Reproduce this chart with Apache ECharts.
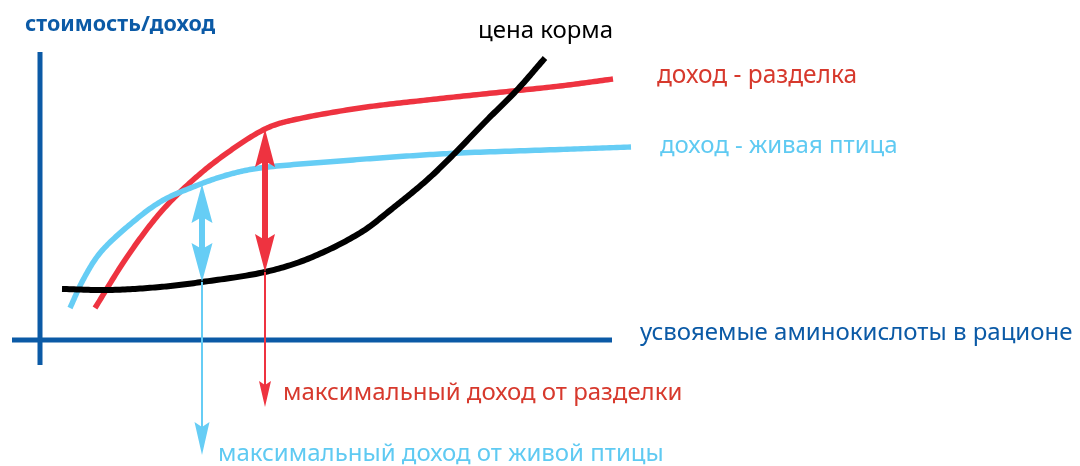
<!DOCTYPE html>
<html>
<head>
<meta charset="utf-8">
<script src="https://cdn.jsdelivr.net/npm/echarts@6/dist/echarts.min.js"></script>
<style>
html,body{margin:0;padding:0;background:#fff;}
#chart{width:1080px;height:466px;}
</style>
</head>
<body>
<div id="chart"></div>
<script>
// ---- data (abstract units: x = digestible amino acids, y = cost / income) ----
const feedCost = [[2.2,5.1],[7,5.0],[12,5.3],[16.2,5.8],[22.5,6.8],[27,8.2],[32,10.7],[35.3,13.2],[38.7,16.0],[41.3,18.5],[44.7,22],[47.7,25],[50.5,28.2]];
const incomeCut = [[5.5,3.2],[8.7,8.3],[12,12.7],[15.3,16],[18.7,18.7],[22.5,21.1],[25.3,22],[32,23.2],[38.7,24],[45.3,24.7],[52,25.4],[57.3,26.1]];
const incomeLive = [[3.0,3.2],[4.3,6.0],[6,8.7],[8.7,11.3],[12,13.8],[15.3,15.3],[18.7,16.5],[22,17.2],[28.7,17.8],[35.3,18.3],[42,18.7],[52,19.05],[59.1,19.3]];
// axes extents
const xAxisLine = [[-2.8,0],[57.2,0]];
const yAxisLine = [[0,28.8],[0,-2.5]];
// arrows: [x, yFrom, yTo]
const liveMarginArrow = [[16.2,15.6,5.8]];
const cutMarginArrow  = [[22.5,21.1,6.8]];
const liveOptArrow    = [[16.2,5.8,-11.5]];
const cutOptArrow     = [[22.5,6.8,-6.7]];
// labels
const labels = {
  yTitle: 'стоимость/доход',
  xTitle: 'усвояемые аминокислоты в рационе',
  feed: 'цена корма',
  cut: 'доход - разделка',
  live: 'доход - живая птица',
  cutMax: 'максимальный доход от разделки',
  liveMax: 'максимальный доход от живой птицы'
};

const BLUE_AXIS = '#0b5aa6';
const RED = '#ee3340';
const RED_TEXT = '#d7392d';
const LIGHT = '#66cdf5';
const LIGHT_TEXT = '#5fcaf2';
const FONT = '"Noto Sans", sans-serif';

// smooth curve drawn through the data points, positioned by the chart's own axes
function curveSeries(data, color, width, z){
  return {
    type: 'custom',
    data: data,
    z: z,
    renderItem: function(params, api){
      if (params.dataIndex !== 0) return null;
      const P = data.map(function(d){ return api.coord(d); });
      const n = P.length;
      function dist(a,b){ return Math.hypot(b[0]-a[0], b[1]-a[1]); }
      const m = P.map(function(p,i){
        if (i === 0) { const d = dist(P[0],P[1]); return [(P[1][0]-P[0][0])/d,(P[1][1]-P[0][1])/d]; }
        if (i === n-1) { const d = dist(P[n-2],P[n-1]); return [(P[n-1][0]-P[n-2][0])/d,(P[n-1][1]-P[n-2][1])/d]; }
        const s = dist(P[i-1],P[i]) + dist(P[i],P[i+1]);
        return [(P[i+1][0]-P[i-1][0])/s,(P[i+1][1]-P[i-1][1])/s];
      });
      const pts = [P[0]];
      for (let i=0;i<n-1;i++){
        const d = dist(P[i],P[i+1]);
        const c1 = [P[i][0]+m[i][0]*d/3, P[i][1]+m[i][1]*d/3];
        const c2 = [P[i+1][0]-m[i+1][0]*d/3, P[i+1][1]-m[i+1][1]*d/3];
        const steps = 20;
        for (let k=1;k<=steps;k++){
          const t=k/steps, u=1-t;
          pts.push([
            u*u*u*P[i][0]+3*u*u*t*c1[0]+3*u*t*t*c2[0]+t*t*t*P[i+1][0],
            u*u*u*P[i][1]+3*u*u*t*c1[1]+3*u*t*t*c2[1]+t*t*t*P[i+1][1]
          ]);
        }
      }
      return {type:'polyline', shape:{points:pts}, style:{stroke:color, lineWidth:width, fill:null, lineJoin:'round', lineCap:'butt'}};
    }
  };
}

function arrowSeries(data, color, shaftW, headL, headW, notch, both){
  return {
    type: 'custom',
    data: data,
    z: 5,
    renderItem: function(params, api){
      const x = api.value(0), y1 = api.value(1), y2 = api.value(2);
      const p1 = api.coord([x,y1]);
      const p2 = api.coord([x,y2]);
      const dir = p2[1] > p1[1] ? 1 : -1;
      const children = [];
      function head(tip, d){
        return {
          type: 'polygon',
          shape: {points: [
            [tip[0], tip[1]],
            [tip[0]-headW/2, tip[1]+d*headL],
            [tip[0], tip[1]+d*(headL-notch)],
            [tip[0]+headW/2, tip[1]+d*headL]
          ]},
          style: {fill: color}
        };
      }
      const sStart = both ? p1[1] + dir*(headL-notch-1) : p1[1];
      const sEnd = p2[1] - dir*(headL-notch-1);
      children.push({type:'line', shape:{x1:p1[0], y1:sStart, x2:p2[0], y2:sEnd}, style:{stroke:color, lineWidth:shaftW}});
      if (both) children.push(head(p1, dir));
      children.push(head(p2, -dir));
      return {type:'group', children: children};
    }
  };
}

const chart = echarts.init(document.getElementById('chart'), null, {renderer:'canvas'});
const option = {
  animation: false,
  backgroundColor: '#fff',
  grid: {left:0, right:0, top:0, bottom:0},
  xAxis: {type:'value', min:-4, max:104, show:false},
  yAxis: {type:'value', min:-12.6, max:34, show:false},
  series: [
    {type:'line', data:xAxisLine, symbol:'none', lineStyle:{color:BLUE_AXIS, width:5, cap:'butt'}, z:1},
    {type:'line', data:yAxisLine, symbol:'none', lineStyle:{color:BLUE_AXIS, width:5, cap:'butt'}, z:1},
    curveSeries(incomeCut, RED, 5.5, 2),
    curveSeries(incomeLive, LIGHT, 5.5, 3),
    curveSeries(feedCost, '#000', 6, 4),
    arrowSeries(liveMarginArrow, LIGHT, 6, 39, 21, 6, true),
    arrowSeries(cutMarginArrow, RED, 6, 38, 20, 6, true),
    arrowSeries(liveOptArrow, LIGHT, 2, 33, 15, 5, false),
    arrowSeries(cutOptArrow, RED, 2, 26, 12, 4, false)
  ],
  graphic: [
    {type:'text', x:25, y:25, style:{text:labels.yTitle, fill:BLUE_AXIS, font:'bold 21.5px '+FONT, align:'left', verticalAlign:'middle'}},
    {type:'text', x:478, y:31, style:{text:labels.feed, fill:'#000', font:'24px '+FONT, align:'left', verticalAlign:'middle'}},
    {type:'text', x:657, y:76, style:{text:labels.cut, fill:RED_TEXT, font:'24.5px '+FONT, align:'left', verticalAlign:'middle'}},
    {type:'text', x:660, y:146, style:{text:labels.live, fill:LIGHT_TEXT, font:'24px '+FONT, align:'left', verticalAlign:'middle'}},
    {type:'text', x:640, y:333, style:{text:labels.xTitle, fill:BLUE_AXIS, font:'24px '+FONT, align:'left', verticalAlign:'middle'}},
    {type:'text', x:283, y:393, style:{text:labels.cutMax, fill:RED_TEXT, font:'24px '+FONT, align:'left', verticalAlign:'middle'}},
    {type:'text', x:218, y:454, style:{text:labels.liveMax, fill:LIGHT_TEXT, font:'24px '+FONT, align:'left', verticalAlign:'middle'}}
  ]
};
chart.setOption(option);
</script>
</body>
</html>
